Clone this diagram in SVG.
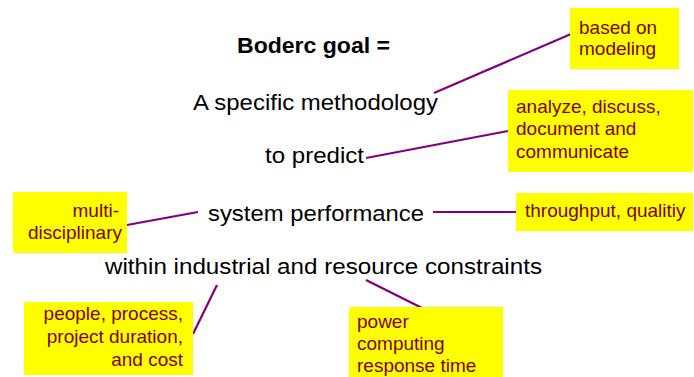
<svg xmlns="http://www.w3.org/2000/svg" width="694" height="377" viewBox="0 0 694 377">
<style>
.main{font-family:"Liberation Sans",Arial,sans-serif;font-size:22.5px;fill:#000}
.title{font-weight:bold}
.box{fill:#ffff00}
.note{font-family:"Liberation Sans",Arial,sans-serif;font-size:19px;fill:#800000}
.r{text-anchor:end}
.con line{stroke:#800080;stroke-width:2.2;fill:none}
</style>
<rect width="694" height="377" fill="#fff"/>
<g id="main-text">
<text class="main title" x="237" y="53" textLength="153" lengthAdjust="spacingAndGlyphs">Boderc goal =</text>
<text class="main" x="193" y="110" textLength="245" lengthAdjust="spacingAndGlyphs">A specific methodology</text>
<text class="main" x="265" y="163" textLength="99" lengthAdjust="spacingAndGlyphs">to predict</text>
<text class="main" x="208" y="221" textLength="216" lengthAdjust="spacingAndGlyphs">system performance</text>
<text class="main" x="105" y="274" textLength="437" lengthAdjust="spacingAndGlyphs">within industrial and resource constraints</text>
</g>
<g id="connectors" class="con">
<line x1="434" y1="93" x2="571" y2="34"/>
<line x1="366" y1="158" x2="508" y2="131"/>
<line x1="198" y1="212" x2="127" y2="225"/>
<line x1="433" y1="212" x2="516" y2="212"/>
<line x1="217" y1="285" x2="193" y2="334"/>
<line x1="366" y1="280" x2="422" y2="308"/>
</g>
<g id="note-modeling">
<rect class="box" x="570" y="8" width="109" height="61"/>
<text class="note" x="579" y="34">based on</text>
<text class="note" x="579" y="55">modeling</text>
</g>
<g id="note-analyze">
<rect class="box" x="508" y="90" width="185" height="82"/>
<text class="note" x="516" y="113">analyze, discuss,</text>
<text class="note" x="516" y="135">document and</text>
<text class="note" x="516" y="158">communicate</text>
</g>
<g id="note-throughput">
<rect class="box" x="516" y="193" width="177" height="38"/>
<text class="note" x="525" y="217">throughput, qualitiy</text>
</g>
<g id="note-multi">
<rect class="box" x="13" y="192" width="114" height="61"/>
<text class="note r" x="119" y="217">multi-</text>
<text class="note r" x="122" y="239">disciplinary</text>
</g>
<g id="note-people">
<rect class="box" x="24" y="302" width="169" height="73"/>
<text class="note r" x="183" y="320">people, process,</text>
<text class="note r" x="183" y="343">project duration,</text>
<text class="note r" x="183" y="366">and cost</text>
</g>
<g id="note-power">
<rect class="box" x="349" y="307" width="154" height="72"/>
<text class="note" x="357" y="328">power</text>
<text class="note" x="357" y="350">computing</text>
<text class="note" x="357" y="372">response time</text>
</g>
</svg>
